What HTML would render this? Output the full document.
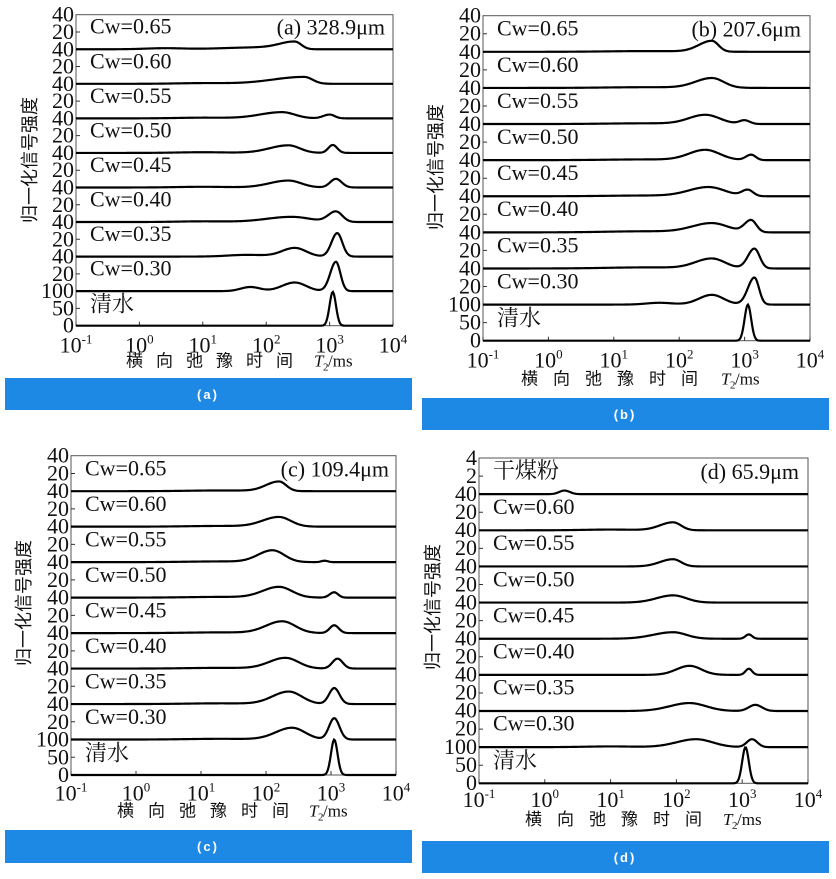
<!DOCTYPE html>
<html><head><meta charset="utf-8"><style>
body{margin:0;background:#fff;width:836px;height:879px;overflow:hidden}
svg{position:absolute;left:0;top:0}
text{font-family:"Liberation Serif","Noto Serif CJK SC",serif;fill:#111}
.t{font-size:22px;text-anchor:end}
.cw{font-size:22px}
.ttl{font-size:22px;text-anchor:end}
.xt{font-size:22px;text-anchor:middle}
.sup{font-size:13px}
.ax{font-family:"Liberation Serif","Noto Sans CJK SC",sans-serif;font-size:17px}
.sub{font-size:11px}
.yt{font-family:"Noto Sans CJK SC",sans-serif;font-size:18px;text-anchor:middle}
.bl{font-family:"Liberation Sans",sans-serif;font-size:13px;font-weight:bold;fill:#fff;text-anchor:middle;letter-spacing:2px}
</style></head><body>
<svg width="836" height="879" viewBox="0 0 836 879">
<rect x="5" y="378" width="407" height="32" fill="#1e88e5"/>
<text class="bl" x="208" y="399">(a)</text>
<rect x="422" y="398" width="407" height="32" fill="#1e88e5"/>
<text class="bl" x="625" y="419">(b)</text>
<rect x="5" y="830" width="407" height="33" fill="#1e88e5"/>
<text class="bl" x="208" y="851">(c)</text>
<rect x="422" y="841" width="407" height="32" fill="#1e88e5"/>
<text class="bl" x="625" y="862">(d)</text>

<text class="yt" transform="translate(36,160) rotate(-90)">归一化信号强度</text>
<text class="yt" transform="translate(442,167) rotate(-90)">归一化信号强度</text>
<text class="yt" transform="translate(30,603) rotate(-90)">归一化信号强度</text>
<text class="yt" transform="translate(439,607) rotate(-90)">归一化信号强度</text>

<g id="pa" transform="translate(76,14.7)">
<text class="ttl" x="309" y="20">(a) 328.9μm</text>
<text class="cw" x="14" y="19">Cw=0.65</text>
<text class="cw" x="14" y="53.6">Cw=0.60</text>
<text class="cw" x="14" y="88.1">Cw=0.55</text>
<text class="cw" x="14" y="122.7">Cw=0.50</text>
<text class="cw" x="14" y="157.2">Cw=0.45</text>
<text class="cw" x="14" y="191.8">Cw=0.40</text>
<text class="cw" x="14" y="226.4">Cw=0.35</text>
<text class="cw" x="14" y="260.9">Cw=0.30</text>
<text class="cw" x="14" y="297">清水</text>
<text class="t" x="-2" y="7">40</text><text class="t" x="-2" y="24.3">20</text>
<text class="t" x="-2" y="41.6">40</text><text class="t" x="-2" y="58.8">20</text>
<text class="t" x="-2" y="76.1">40</text><text class="t" x="-2" y="93.4">20</text>
<text class="t" x="-2" y="110.7">40</text><text class="t" x="-2" y="128">20</text>
<text class="t" x="-2" y="145.2">40</text><text class="t" x="-2" y="162.5">20</text>
<text class="t" x="-2" y="179.8">40</text><text class="t" x="-2" y="197.1">20</text>
<text class="t" x="-2" y="214.4">40</text><text class="t" x="-2" y="231.6">20</text>
<text class="t" x="-2" y="248.9">40</text><text class="t" x="-2" y="266.2">20</text>
<text class="t" x="-2" y="283.5">100</text><text class="t" x="-2" y="300.8">50</text>
<text class="t" x="-2" y="318">0</text>
<text class="xt" x="0" y="338">10<tspan class="sup" dy="-9">-1</tspan></text>
<text class="xt" x="63.4" y="338">10<tspan class="sup" dy="-9">0</tspan></text>
<text class="xt" x="126.8" y="338">10<tspan class="sup" dy="-9">1</tspan></text>
<text class="xt" x="190.2" y="338">10<tspan class="sup" dy="-9">2</tspan></text>
<text class="xt" x="253.6" y="338">10<tspan class="sup" dy="-9">3</tspan></text>
<text class="xt" x="317" y="338">10<tspan class="sup" dy="-9">4</tspan></text>
<text class="ax" x="50" y="352" letter-spacing="13">横向弛豫时间</text><text class="ax" x="238" y="352" font-style="italic">T</text><text class="ax sub" x="247" y="356">2</text><text class="ax" x="252" y="352">/ms</text>
</g>

<g id="pb" transform="translate(483,15.7)">
<text class="ttl" x="318" y="21">(b) 207.6μm</text>
<text class="cw" x="14" y="20">Cw=0.65</text>
<text class="cw" x="14" y="56.1">Cw=0.60</text>
<text class="cw" x="14" y="92.2">Cw=0.55</text>
<text class="cw" x="14" y="128.3">Cw=0.50</text>
<text class="cw" x="14" y="164.4">Cw=0.45</text>
<text class="cw" x="14" y="200.5">Cw=0.40</text>
<text class="cw" x="14" y="236.6">Cw=0.35</text>
<text class="cw" x="14" y="272.7">Cw=0.30</text>
<text class="cw" x="14" y="310">清水</text>
<text class="t" x="-2" y="7">40</text><text class="t" x="-2" y="25">20</text>
<text class="t" x="-2" y="43.1">40</text><text class="t" x="-2" y="61.1">20</text>
<text class="t" x="-2" y="79.2">40</text><text class="t" x="-2" y="97.2">20</text>
<text class="t" x="-2" y="115.3">40</text><text class="t" x="-2" y="133.3">20</text>
<text class="t" x="-2" y="151.4">40</text><text class="t" x="-2" y="169.4">20</text>
<text class="t" x="-2" y="187.5">40</text><text class="t" x="-2" y="205.5">20</text>
<text class="t" x="-2" y="223.6">40</text><text class="t" x="-2" y="241.6">20</text>
<text class="t" x="-2" y="259.7">40</text><text class="t" x="-2" y="277.7">20</text>
<text class="t" x="-2" y="295.8">100</text><text class="t" x="-2" y="313.8">50</text>
<text class="t" x="-2" y="332">0</text>
<text class="xt" x="0" y="352">10<tspan class="sup" dy="-9">-1</tspan></text>
<text class="xt" x="65.4" y="352">10<tspan class="sup" dy="-9">0</tspan></text>
<text class="xt" x="130.8" y="352">10<tspan class="sup" dy="-9">1</tspan></text>
<text class="xt" x="196.2" y="352">10<tspan class="sup" dy="-9">2</tspan></text>
<text class="xt" x="261.6" y="352">10<tspan class="sup" dy="-9">3</tspan></text>
<text class="xt" x="327" y="352">10<tspan class="sup" dy="-9">4</tspan></text>
<text class="ax" x="38" y="369" letter-spacing="15">横向弛豫时间</text><text class="ax" x="238" y="369" font-style="italic">T</text><text class="ax sub" x="247" y="373">2</text><text class="ax" x="252" y="369">/ms</text>
</g>

<g id="pc" transform="translate(71,455.7)">
<text class="ttl" x="318" y="21">(c) 109.4μm</text>
<text class="cw" x="14" y="20">Cw=0.65</text>
<text class="cw" x="14" y="55.5">Cw=0.60</text>
<text class="cw" x="14" y="91">Cw=0.55</text>
<text class="cw" x="14" y="126.5">Cw=0.50</text>
<text class="cw" x="14" y="162">Cw=0.45</text>
<text class="cw" x="14" y="197.5">Cw=0.40</text>
<text class="cw" x="14" y="233">Cw=0.35</text>
<text class="cw" x="14" y="268.5">Cw=0.30</text>
<text class="cw" x="14" y="305">清水</text>
<text class="t" x="-2" y="7">40</text><text class="t" x="-2" y="24.7">20</text>
<text class="t" x="-2" y="42.5">40</text><text class="t" x="-2" y="60.2">20</text>
<text class="t" x="-2" y="78">40</text><text class="t" x="-2" y="95.7">20</text>
<text class="t" x="-2" y="113.5">40</text><text class="t" x="-2" y="131.2">20</text>
<text class="t" x="-2" y="149">40</text><text class="t" x="-2" y="166.7">20</text>
<text class="t" x="-2" y="184.5">40</text><text class="t" x="-2" y="202.2">20</text>
<text class="t" x="-2" y="220">40</text><text class="t" x="-2" y="237.7">20</text>
<text class="t" x="-2" y="255.5">40</text><text class="t" x="-2" y="273.2">20</text>
<text class="t" x="-2" y="291">100</text><text class="t" x="-2" y="308.7">50</text>
<text class="t" x="-2" y="326.5">0</text>
<text class="xt" x="0" y="345">10<tspan class="sup" dy="-9">-1</tspan></text>
<text class="xt" x="65" y="345">10<tspan class="sup" dy="-9">0</tspan></text>
<text class="xt" x="130" y="345">10<tspan class="sup" dy="-9">1</tspan></text>
<text class="xt" x="195" y="345">10<tspan class="sup" dy="-9">2</tspan></text>
<text class="xt" x="260" y="345">10<tspan class="sup" dy="-9">3</tspan></text>
<text class="xt" x="325" y="345">10<tspan class="sup" dy="-9">4</tspan></text>
<text class="ax" x="46" y="361" letter-spacing="14">横向弛豫时间</text><text class="ax" x="238" y="361" font-style="italic">T</text><text class="ax sub" x="247" y="365">2</text><text class="ax" x="252" y="361">/ms</text>
</g>

<g id="pd" transform="translate(479,458)">
<text class="ttl" x="320" y="21">(d) 65.9μm</text>
<text class="cw" x="14" y="20">干煤粉</text>
<text class="cw" x="14" y="56.1">Cw=0.60</text>
<text class="cw" x="14" y="92.2">Cw=0.55</text>
<text class="cw" x="14" y="128.3">Cw=0.50</text>
<text class="cw" x="14" y="164.4">Cw=0.45</text>
<text class="cw" x="14" y="200.5">Cw=0.40</text>
<text class="cw" x="14" y="236.6">Cw=0.35</text>
<text class="cw" x="14" y="272.7">Cw=0.30</text>
<text class="cw" x="14" y="310">清水</text>
<text class="t" x="-2" y="7">4</text><text class="t" x="-2" y="25">2</text>
<text class="t" x="-2" y="43.1">40</text><text class="t" x="-2" y="61.1">20</text>
<text class="t" x="-2" y="79.2">40</text><text class="t" x="-2" y="97.2">20</text>
<text class="t" x="-2" y="115.3">40</text><text class="t" x="-2" y="133.3">20</text>
<text class="t" x="-2" y="151.4">40</text><text class="t" x="-2" y="169.4">20</text>
<text class="t" x="-2" y="187.5">40</text><text class="t" x="-2" y="205.5">20</text>
<text class="t" x="-2" y="223.6">40</text><text class="t" x="-2" y="241.6">20</text>
<text class="t" x="-2" y="259.7">40</text><text class="t" x="-2" y="277.7">20</text>
<text class="t" x="-2" y="295.8">100</text><text class="t" x="-2" y="313.8">50</text>
<text class="t" x="-2" y="332">0</text>
<text class="xt" x="0" y="349">10<tspan class="sup" dy="-9">-1</tspan></text>
<text class="xt" x="65.8" y="349">10<tspan class="sup" dy="-9">0</tspan></text>
<text class="xt" x="131.6" y="349">10<tspan class="sup" dy="-9">1</tspan></text>
<text class="xt" x="197.4" y="349">10<tspan class="sup" dy="-9">2</tspan></text>
<text class="xt" x="263.2" y="349">10<tspan class="sup" dy="-9">3</tspan></text>
<text class="xt" x="329" y="349">10<tspan class="sup" dy="-9">4</tspan></text>
<text class="ax" x="46" y="367" letter-spacing="15">横向弛豫时间</text><text class="ax" x="244" y="367" font-style="italic">T</text><text class="ax sub" x="253" y="371">2</text><text class="ax" x="258" y="367">/ms</text>
</g>
</svg>
<script>
var NS="http://www.w3.org/2000/svg";
var P={
pa:{W:317,H:311,rows:[
[[0.4,0.03,0.3,0.3],[1.8,0.05,0.5,0.3],[2.45,0.22,0.25,0.1]],
[[1.0,0.02,0.4,0.4],[2.6,0.2,0.5,0.13]],
[[1.0,0.02,0.4,0.4],[2.25,0.18,0.35,0.2],[3.0,0.11,0.1,0.08]],
[[1.0,0.02,0.4,0.4],[2.35,0.22,0.3,0.18],[3.05,0.23,0.07,0.07]],
[[1.0,0.02,0.4,0.4],[2.35,0.2,0.3,0.2],[3.1,0.25,0.09,0.09]],
[[1.0,0.02,0.4,0.4],[2.4,0.15,0.4,0.3],[3.1,0.3,0.12,0.1]],
[[1.7,0.05,0.3,0.3],[2.45,0.25,0.2,0.18],[3.12,0.68,0.09,0.08]],
[[1.75,0.12,0.15,0.15],[2.45,0.25,0.2,0.18],[3.1,0.85,0.09,0.07]],
[[3.05,0.98,0.05,0.05]]]},
pb:{W:327,H:325,rows:[
[[1.5,0.02,0.6,0.6],[2.5,0.3,0.2,0.1]],
[[1.5,0.02,0.6,0.6],[2.5,0.27,0.25,0.18]],
[[1.5,0.02,0.6,0.6],[2.4,0.25,0.25,0.22],[3.0,0.1,0.08,0.08]],
[[1.5,0.02,0.6,0.6],[2.4,0.28,0.25,0.22],[3.1,0.15,0.08,0.07]],
[[1.5,0.02,0.6,0.6],[2.45,0.25,0.3,0.25],[3.05,0.17,0.09,0.08]],
[[1.5,0.03,0.6,0.6],[2.5,0.25,0.3,0.25],[3.1,0.33,0.1,0.08]],
[[1.5,0.03,0.6,0.6],[2.5,0.27,0.25,0.2],[3.15,0.55,0.1,0.08]],
[[1.7,0.05,0.2,0.2],[2.5,0.27,0.2,0.18],[3.15,0.75,0.1,0.07]],
[[3.05,1.0,0.05,0.05]]]},
pc:{W:325,H:319.3,rows:[
[[1.3,0.02,0.5,0.5],[2.2,0.27,0.2,0.11]],
[[1.3,0.02,0.5,0.5],[2.2,0.27,0.25,0.18]],
[[1.3,0.02,0.5,0.5],[2.1,0.33,0.22,0.18],[2.9,0.04,0.05,0.05]],
[[1.3,0.02,0.5,0.5],[2.2,0.3,0.25,0.2],[3.05,0.15,0.07,0.06]],
[[1.3,0.02,0.5,0.5],[2.25,0.33,0.25,0.2],[3.05,0.22,0.07,0.07]],
[[1.3,0.02,0.5,0.5],[2.3,0.3,0.25,0.2],[3.1,0.28,0.08,0.08]],
[[1.3,0.02,0.5,0.5],[2.35,0.35,0.25,0.2],[3.05,0.45,0.08,0.08]],
[[1.3,0.02,0.5,0.5],[2.4,0.33,0.25,0.2],[3.05,0.6,0.08,0.08]],
[[3.05,1.0,0.05,0.05]]]},
pd:{W:329,H:325.3,rows:[
[[0.3,0.1,0.08,0.08]],
[[1.0,0.02,0.4,0.4],[1.95,0.22,0.2,0.12]],
[[1.95,0.2,0.2,0.12]],
[[1.95,0.2,0.25,0.2]],
[[1.95,0.18,0.3,0.2],[3.1,0.12,0.05,0.05]],
[[2.2,0.25,0.2,0.18],[3.1,0.17,0.05,0.05]],
[[2.2,0.22,0.3,0.25],[3.2,0.17,0.1,0.1]],
[[1.0,0.02,0.4,0.4],[2.3,0.22,0.3,0.25],[3.15,0.22,0.08,0.08]],
[[3.05,1.0,0.05,0.05]]]}
};
for(var id in P){
 var p=P[id],g=document.getElementById(id),rh=p.H/9,dec=p.W/5;
 var fr=document.createElementNS(NS,"rect");
 fr.setAttribute("x",0);fr.setAttribute("y",0);fr.setAttribute("width",p.W);fr.setAttribute("height",p.H);
 fr.setAttribute("fill","none");fr.setAttribute("stroke","#555");fr.setAttribute("stroke-width","1");
 g.insertBefore(fr,g.firstChild);
 var d="";
 for(var k=0;k<=5;k++){d+="M"+(k*dec)+","+p.H+"v-4";}
 for(var r=0;r<9;r++){d+="M0,"+(r*rh+rh/2)+"h4";}
 var tk=document.createElementNS(NS,"path");tk.setAttribute("d",d);tk.setAttribute("stroke","#333");tk.setAttribute("fill","none");g.appendChild(tk);
 for(var r=0;r<9;r++){
  var base=(r+1)*rh,pk=p.rows[r],s="";
  for(var i=0;i<=p.W;i+=1){
   var lx=-1+i/dec,v=0;
   for(var j=0;j<pk.length;j++){var q=pk[j],sg=lx<q[0]?q[2]:q[3];v+=q[1]*Math.exp(-Math.pow((lx-q[0])/sg,2)/2);}
   s+=(i?"L":"M")+i+","+(base-v*rh).toFixed(2);
  }
  var pa=document.createElementNS(NS,"path");pa.setAttribute("d",s);pa.setAttribute("fill","none");
  pa.setAttribute("stroke","#000");pa.setAttribute("stroke-width","2.2");g.appendChild(pa);
 }
}
</script>
</body></html>
